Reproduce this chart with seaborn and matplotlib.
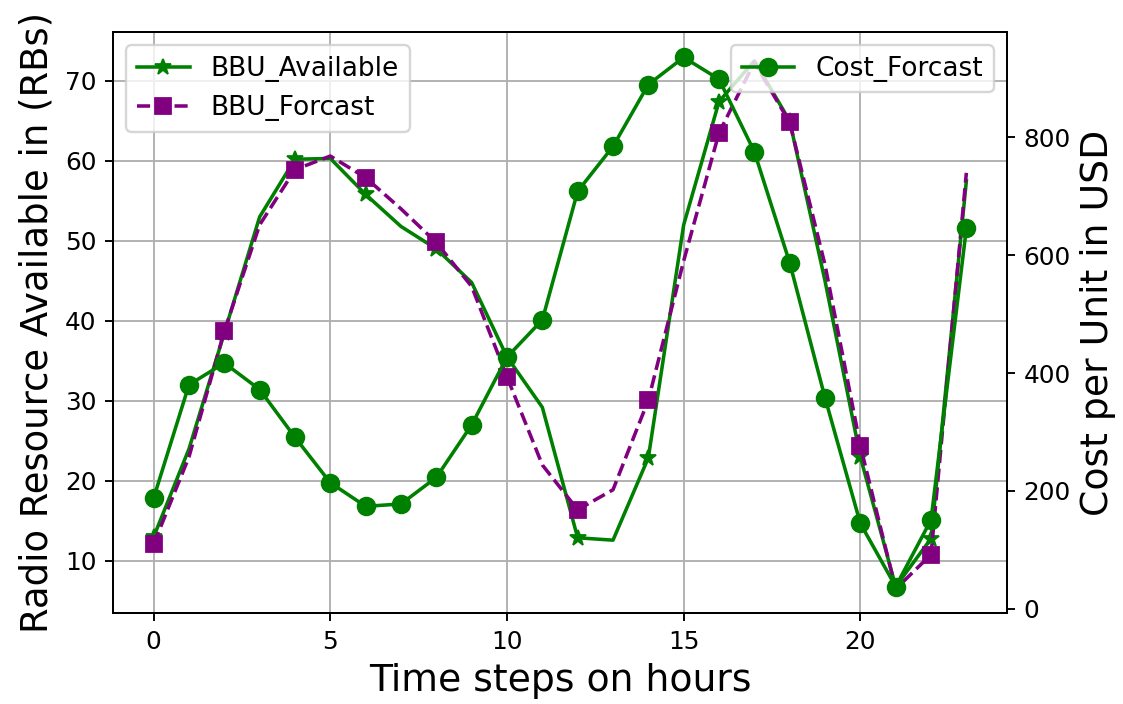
import matplotlib
matplotlib.use("Agg")
import matplotlib.pyplot as plt
import seaborn as sns
import pandas as pd

# Hourly radio resource availability, its forecast, and forecast unit cost
hours = list(range(24))
bbu_available = [13.0, 24.0, 38.5, 53.0, 60.2, 60.3, 55.8, 51.8, 49.0, 44.8,
                 35.5, 29.2, 12.9, 12.6, 22.9, 52.0, 67.4, 72.5, 65.0, 45.0,
                 23.0, 6.8, 12.8, 57.5]
bbu_forcast = [12.1, 23.0, 38.7, 52.0, 58.9, 60.6, 57.9, 54.0, 49.8, 44.3,
               33.0, 22.0, 16.4, 18.9, 30.1, 47.5, 63.5, 72.3, 64.8, 47.0,
               24.4, 6.5, 10.8, 58.5]
cost_forcast = [188, 380, 417, 372, 291, 214, 174, 178, 223, 312,
                427, 490, 708, 784, 889, 935, 898, 775, 587, 358,
                145, 38, 151, 645]

df = pd.DataFrame({
    "hour": hours,
    "BBU_Available": bbu_available,
    "BBU_Forcast": bbu_forcast,
    "Cost_Forcast": cost_forcast,
})

fig = plt.figure(figsize=(1123 / 170, 704 / 170), dpi=170)
ax1 = fig.add_axes([113 / 1123, 1 - 613 / 704, (1007 - 113) / 1123, (613 - 32) / 704])

sns.lineplot(data=df, x="hour", y="BBU_Available", ax=ax1, color="green",
             marker="*", markersize=7, markevery=2, linewidth=1.5,
             markeredgecolor="green", label="BBU_Available")
sns.lineplot(data=df, x="hour", y="BBU_Forcast", ax=ax1, color="purple",
             linestyle="--", marker="s", markersize=7, markevery=2,
             linewidth=1.5, markeredgecolor="purple", label="BBU_Forcast")
ax1.set_ylim(3.5, 76.1)
ax1.set_xlim(-1.15, 24.15)
ax1.set_yticks([10, 20, 30, 40, 50, 60, 70])
ax1.set_xticks([0, 5, 10, 15, 20])
ax1.grid(True, color="#b0b0b0", linewidth=0.8)
ax1.set_xlabel("Time steps on hours", fontsize=16)
ax1.set_ylabel("Radio Resource Available in (RBs)", fontsize=15.7)
ax1.tick_params(labelsize=10.5)
ax1.legend(loc="upper left", fontsize=11.2)

ax2 = ax1.twinx()
sns.lineplot(data=df, x="hour", y="Cost_Forcast", ax=ax2, color="green",
             marker="o", markersize=7.5, linewidth=1.5,
             markeredgecolor="green", label="Cost_Forcast")
ax2.set_ylim(-6.8, 978)
ax2.set_yticks([0, 200, 400, 600, 800])
ax2.set_ylabel("Cost per Unit in USD", fontsize=16)
ax2.tick_params(labelsize=10.5)
ax2.legend(loc="upper right", fontsize=11.2)

fig.savefig("out.png", dpi=170)
